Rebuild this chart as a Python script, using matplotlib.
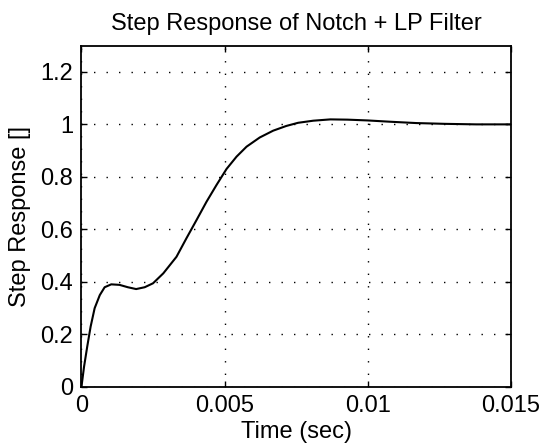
import numpy as np ;
import matplotlib ;
matplotlib.use("Agg") ;
import matplotlib.pyplot as plt ;

# values
t = [0, 0.00009, 0.0002, 0.00032, 0.00046, 0.00064, 0.00081, 0.00104, 0.00133,
     0.00162, 0.00191, 0.00221, 0.0025, 0.00286, 0.00332, 0.00367, 0.00402,
     0.00437, 0.00472, 0.00507, 0.00542, 0.00577, 0.00623, 0.0067, 0.00716,
     0.00757, 0.0081, 0.0087, 0.0093, 0.01, 0.0108, 0.0117, 0.0127, 0.0138, 0.015] ;
y = [0, 0.076, 0.152, 0.229, 0.299, 0.349, 0.379, 0.39, 0.388,
     0.379, 0.372, 0.379, 0.394, 0.432, 0.495, 0.566, 0.635,
     0.705, 0.769, 0.83, 0.877, 0.915, 0.95, 0.976, 0.994,
     1.006, 1.014, 1.019, 1.018, 1.015, 1.01, 1.005, 1.002, 1.0, 1.0] ;
xticks = [0, 0.005, 0.01, 0.015] ;
xtick_labels = ["0", "0.005", "0.01", "0.015"] ;
yticks = [0, 0.2, 0.4, 0.6, 0.8, 1, 1.2] ;
ytick_labels = ["0", "0.2", "0.4", "0.6", "0.8", "1", "1.2"] ;

plt.rcParams['font.family'] = ['Liberation Sans', 'DejaVu Sans'] ;
fs = 17 ;

fig = plt.figure(figsize=(5.45, 4.48), dpi=100) ;
ax = fig.add_axes([0.1495, 0.137, 0.937 - 0.1495, 0.898 - 0.137]) ;
ax.plot(t, y, color="black", lw=1.5) ;

ax.set_xlim(0, 0.015) ;
ax.set_ylim(0, 1.3) ;
ax.set_xticks(xticks) ;
ax.set_xticklabels(xtick_labels) ;
ax.set_yticks(yticks) ;
ax.set_yticklabels(ytick_labels) ;
ax.tick_params(direction="in", length=4, width=1, top=True, right=True,
               labelsize=fs, pad=6) ;
ax.grid(True, color="black", linestyle=(0, (1, 8)), lw=1) ;
for s in ax.spines.values():
    s.set_linewidth(1.3) ;

ax.set_title("Step Response of Notch + LP Filter", fontsize=fs, pad=11) ;
ax.set_xlabel("Time (sec)", fontsize=fs, labelpad=3) ;
ax.set_ylabel("Step Response []", fontsize=fs, labelpad=7) ;

fig.savefig("out.png", dpi=100) ;
